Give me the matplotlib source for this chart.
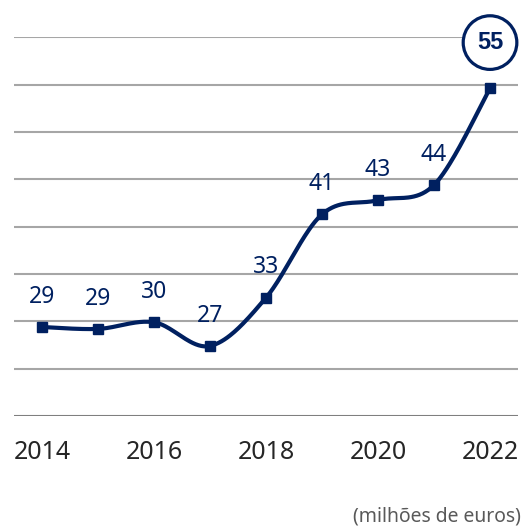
# Gráfico de linha suavizada: evolução anual (milhões de euros)
import numpy as np
import matplotlib
matplotlib.use('Agg')
import matplotlib.pyplot as plt

# Dados
anos = [2014, 2015, 2016, 2017, 2018, 2019, 2020, 2021, 2022]
valores = [29.4, 29.2, 29.9, 27.4, 32.5, 41.3, 42.8, 44.4, 54.6]
rotulos = ['29', '29', '30', '27', '33', '41', '43', '44', '55']
anosEixo = [2014, 2016, 2018, 2020, 2022]

azul = '#002060'
cinza = '#a6a6a6'

# Curva suave (Bezier tipo Excel) passando pelos pontos
def curvaSuave(x, y, passos=40):
  x = np.array(x, dtype=float)
  y = np.array(y, dtype=float)
  n = len(x)
  xs, ys = [], []
  for i in range(n - 1):
    i0 = max(i - 1, 0)
    i3 = min(i + 2, n - 1)
    c1x = x[i] + (x[i + 1] - x[i0]) / 6
    c1y = y[i] + (y[i + 1] - y[i0]) / 6
    c2x = x[i + 1] - (x[i3] - x[i]) / 6
    c2y = y[i + 1] - (y[i3] - y[i]) / 6
    t = np.linspace(0, 1, passos)
    a = (1 - t) ** 3
    b = 3 * (1 - t) ** 2 * t
    c = 3 * (1 - t) * t ** 2
    d = t ** 3
    xs.extend(a * x[i] + b * c1x + c * c2x + d * x[i + 1])
    ys.extend(a * y[i] + b * c1y + c * c2y + d * y[i + 1])
  return xs, ys

fig = plt.figure(figsize=(5.25, 5.26), dpi=100)
ax = fig.add_axes([0.0267, 0.2091, 0.96, 0.72])

# Linhas de grade
for g in range(20, 61, 5):
  cor = '#7f7f7f' if g == 20 else cinza
  ax.axhline(g, color=cor, lw=1.5, zorder=1)

xs, ys = curvaSuave(anos, valores)
ax.plot(xs, ys, color=azul, lw=3.0, solid_capstyle='round', zorder=3)
ax.plot(anos, valores, 's', color=azul, ms=7.5, zorder=4)

# Rótulos dos pontos
for i in range(len(anos) - 1):
  ax.annotate(rotulos[i], (anos[i], valores[i]), xytext=(0, 17.5), textcoords='offset points',
              ha='center', va='baseline', fontsize=16.5, color=azul, family='Noto Sans')

# Último valor destacado num círculo
ax.annotate(rotulos[-1], (anos[-1], valores[-1]), xytext=(0, 33), textcoords='offset points',
            ha='center', va='center', fontsize=17, fontweight='bold', color=azul,
            family='Liberation Sans',
            bbox=dict(boxstyle='circle,pad=0.58', fc='white', ec=azul, lw=2.3), zorder=5)

ax.set_xlim(2013.5, 2022.5)
ax.set_ylim(20, 60)
ax.set_xticks(anosEixo)
ax.set_xticklabels([str(a) for a in anosEixo], fontsize=18, color='#262626', family='Noto Sans')
ax.set_yticks([])
ax.tick_params(axis='x', length=0, pad=17.5)
for lado in ax.spines.values():
  lado.set_visible(False)

fig.text(0.992, 0.0095, '(milhões de euros)', ha='right', va='baseline', fontsize=13.9,
         color='#595959', family='Noto Sans')

fig.savefig('out.png', dpi=100)
